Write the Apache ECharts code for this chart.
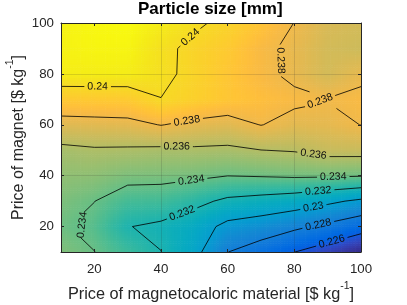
<!DOCTYPE html>
<html><head><meta charset="utf-8">
<script src="https://cdn.jsdelivr.net/npm/echarts@6/dist/echarts.min.js"></script>
<style>html,body{margin:0;padding:0;background:#fff}#c{width:407px;height:305px}</style>
</head><body><div id="c"></div><script>
// x: price of magnetocaloric material [$/kg], y: price of magnet [$/kg]
const mcmPrice = [10, 20, 30, 40, 50, 60, 70, 80, 90, 100];
const magnetPrice = [10, 20, 30, 40, 50, 60, 70, 80, 90, 100];
// particle size [mm], one row per magnet price, columns follow mcmPrice
const size_m10  = [0.2346, 0.23402, 0.2330, 0.23202, 0.23056, 0.22802, 0.2271, 0.22602, 0.2251, 0.2241];
const size_m20  = [0.23413, 0.2336, 0.23205, 0.2317, 0.23093, 0.2295, 0.22903, 0.22834, 0.2276, 0.22675];
const size_m30  = [0.2345, 0.23402, 0.23319, 0.23311, 0.23248, 0.23166, 0.23134, 0.23098, 0.23036, 0.22967];
const size_m40  = [0.2350, 0.23491, 0.23448, 0.23446, 0.2343, 0.23402, 0.23411, 0.23423, 0.23421, 0.2341];
const size_m50  = [0.23558, 0.23581, 0.23577, 0.23567, 0.23574, 0.23566, 0.23598, 0.23611, 0.2366, 0.23663];
const size_m60  = [0.2374, 0.23748, 0.23756, 0.23805, 0.2376, 0.23741, 0.23804, 0.2375, 0.2376, 0.23802];
const size_m70  = [0.23914, 0.23918, 0.23921, 0.23998, 0.2395, 0.2390, 0.2386, 0.2383, 0.23805, 0.2383];
const size_m80  = [0.24083, 0.24082, 0.2408, 0.24027, 0.2397, 0.2390, 0.2383, 0.2377, 0.2370, 0.2377];
const size_m90  = [0.2410, 0.2411, 0.2411, 0.2403, 0.2397, 0.2392, 0.2383, 0.2377, 0.2370, 0.2368];
const size_m100 = [0.2410, 0.2412, 0.2413, 0.2408, 0.2402, 0.2397, 0.2389, 0.23798, 0.2372, 0.2370];
const contourLevels = [0.226, 0.228, 0.23, 0.232, 0.234, 0.236, 0.238, 0.24];
const xTickValues = [20, 40, 60, 80, 100];
const yTickValues = [20, 40, 60, 80, 100];

// label anchor hints: [level, approx x, approx y, vertical-reading hint]
const labelAnchors = [
  [0.24, 21, 75, 0], [0.24, 49.6, 93.3, 0],
  [0.238, 74.7, 85.2, -1], [0.238, 88, 68.3, 0], [0.238, 47.7, 62, 0],
  [0.236, 44.7, 51.4, 0], [0.236, 85.7, 48.1, 0],
  [0.234, 13.7, 20.6, 1], [0.234, 49.2, 37, 0], [0.234, 91.7, 39, 0],
  [0.232, 46.7, 23.9, 0], [0.232, 87.2, 33.7, 0],
  [0.23, 85.7, 27.8, 0], [0.228, 87.2, 20.6, 0], [0.226, 91.2, 14.3, 0]
];

const Z = [size_m10, size_m20, size_m30, size_m40, size_m50, size_m60, size_m70, size_m80, size_m90, size_m100];
const zAll = Z.flat();
const zMin = Math.min(...zAll), zMax = Math.max(...zAll);

const PARULA = [[0.2081,0.1663,0.5292],[0.2116,0.1898,0.5777],[0.2123,0.2138,0.6270],[0.2081,0.2386,0.6771],[0.1959,0.2645,0.7279],[0.1707,0.2919,0.7792],[0.1253,0.3242,0.8303],[0.0591,0.3598,0.8683],[0.0117,0.3875,0.8820],[0.0060,0.4086,0.8828],[0.0165,0.4266,0.8786],[0.0329,0.4430,0.8720],[0.0498,0.4586,0.8641],[0.0629,0.4737,0.8554],[0.0723,0.4887,0.8467],[0.0779,0.5040,0.8384],[0.0793,0.5200,0.8312],[0.0749,0.5375,0.8263],[0.0641,0.5570,0.8240],[0.0488,0.5772,0.8228],[0.0343,0.5966,0.8199],[0.0265,0.6137,0.8135],[0.0239,0.6287,0.8038],[0.0231,0.6418,0.7913],[0.0228,0.6535,0.7768],[0.0267,0.6642,0.7607],[0.0384,0.6743,0.7436],[0.0590,0.6838,0.7254],[0.0843,0.6928,0.7062],[0.1133,0.7015,0.6859],[0.1453,0.7098,0.6646],[0.1801,0.7177,0.6424],[0.2178,0.7250,0.6193],[0.2586,0.7317,0.5954],[0.3022,0.7376,0.5712],[0.3482,0.7424,0.5473],[0.3953,0.7459,0.5244],[0.4420,0.7481,0.5033],[0.4871,0.7491,0.4840],[0.5300,0.7491,0.4661],[0.5709,0.7485,0.4494],[0.6099,0.7473,0.4337],[0.6473,0.7456,0.4188],[0.6834,0.7435,0.4044],[0.7184,0.7411,0.3905],[0.7525,0.7384,0.3768],[0.7858,0.7356,0.3633],[0.8185,0.7327,0.3498],[0.8507,0.7299,0.3360],[0.8824,0.7274,0.3217],[0.9139,0.7258,0.3063],[0.9450,0.7261,0.2886],[0.9739,0.7314,0.2666],[0.9938,0.7455,0.2403],[0.9990,0.7653,0.2164],[0.9955,0.7861,0.1967],[0.9880,0.8066,0.1794],[0.9789,0.8271,0.1633],[0.9697,0.8481,0.1475],[0.9626,0.8705,0.1309],[0.9589,0.8949,0.1132],[0.9598,0.9218,0.0948],[0.9661,0.9514,0.0755],[0.9763,0.9831,0.0538]];
function zColor(z) {
  let t = (z - zMin) / (zMax - zMin);
  t = Math.max(0, Math.min(1, t)) * (PARULA.length - 1);
  const k = Math.min(PARULA.length - 2, Math.floor(t)), f = t - k;
  const a = PARULA[k], b = PARULA[k + 1];
  return 'rgb(' + [0,1,2].map(q => Math.round(255 * (a[q] + f * (b[q] - a[q])))).join(',') + ')';
}

// cells of the grid
const cellData = [];
for (let j = 0; j < magnetPrice.length - 1; j++)
  for (let i = 0; i < mcmPrice.length - 1; i++)
    cellData.push([mcmPrice[i], magnetPrice[j], i, j]);

// marching squares contour segments in data space
function contourSegments(level) {
  const segs = [];
  const above = z => z >= level;
  function cross(za, zb, pa, pb) {
    if (above(za) === above(zb)) return null;
    const t = (level - za) / (zb - za);
    return [pa[0] + t * (pb[0] - pa[0]), pa[1] + t * (pb[1] - pa[1])];
  }
  for (let j = 0; j < magnetPrice.length - 1; j++) {
    for (let i = 0; i < mcmPrice.length - 1; i++) {
      const x0 = mcmPrice[i], x1 = mcmPrice[i + 1], y0 = magnetPrice[j], y1 = magnetPrice[j + 1];
      const a = Z[j][i], b = Z[j][i + 1], c = Z[j + 1][i + 1], d = Z[j + 1][i];
      const eB = cross(a, b, [x0, y0], [x1, y0]);
      const eR = cross(b, c, [x1, y0], [x1, y1]);
      const eT = cross(d, c, [x0, y1], [x1, y1]);
      const eL = cross(a, d, [x0, y0], [x0, y1]);
      const pts = [eB, eR, eT, eL].filter(p => p);
      if (pts.length === 2) segs.push([pts[0], pts[1]]);
      else if (pts.length === 4) {
        const centerAbove = above((a + b + c + d) / 4);
        if (centerAbove === above(a)) { segs.push([eB, eR]); segs.push([eT, eL]); }
        else { segs.push([eB, eL]); segs.push([eR, eT]); }
      }
    }
  }
  return segs;
}
const contours = contourLevels.map(l => ({ level: l, segs: contourSegments(l) }));

const measureCtx = document.createElement('canvas').getContext('2d');
const LABEL_FONT = '10.6px "Liberation Sans", Arial, sans-serif';
measureCtx.font = LABEL_FONT;
function levelText(l) { return String(+l.toFixed(3)); }

function computeLabels(api) {
  const out = [];
  labelAnchors.forEach(an => {
    const level = an[0];
    const cont = contours.find(c => Math.abs(c.level - level) < 1e-9);
    if (!cont) return;
    const segPx = cont.segs.map(s => [api.coord(s[0]), api.coord(s[1])]);
    const A = api.coord([an[1], an[2]]);
    let best = null, bd = Infinity;
    segPx.forEach(s => {
      const dx = s[1][0] - s[0][0], dy = s[1][1] - s[0][1];
      const L2 = dx * dx + dy * dy || 1e-9;
      let t = ((A[0] - s[0][0]) * dx + (A[1] - s[0][1]) * dy) / L2;
      t = Math.max(0, Math.min(1, t));
      const P = [s[0][0] + t * dx, s[0][1] + t * dy];
      const dd = (P[0] - A[0]) ** 2 + (P[1] - A[1]) ** 2;
      if (dd < bd) { bd = dd; best = { P, dir: [dx, dy] }; }
    });
    if (!best) return;
    const text = levelText(level);
    const w = measureCtx.measureText(text).width;
    const r = w / 2 + 3;
    const C = best.P;
    const hits = [];
    segPx.forEach(s => {
      const dx = s[1][0] - s[0][0], dy = s[1][1] - s[0][1];
      const fx = s[0][0] - C[0], fy = s[0][1] - C[1];
      const a = dx * dx + dy * dy, b = 2 * (fx * dx + fy * dy), c = fx * fx + fy * fy - r * r;
      const disc = b * b - 4 * a * c;
      if (disc < 0 || a === 0) return;
      const sq = Math.sqrt(disc);
      [(-b - sq) / (2 * a), (-b + sq) / (2 * a)].forEach(t => {
        if (t >= 0 && t <= 1) hits.push([s[0][0] + t * dx, s[0][1] + t * dy]);
      });
    });
    let p1 = null, p2 = null, md = -1;
    for (let m = 0; m < hits.length; m++) for (let n = m + 1; n < hits.length; n++) {
      const dd = (hits[m][0] - hits[n][0]) ** 2 + (hits[m][1] - hits[n][1]) ** 2;
      if (dd > md) { md = dd; p1 = hits[m]; p2 = hits[n]; }
    }
    let dir = best.dir, M = C;
    if (p1 && md > 4) { dir = [p2[0] - p1[0], p2[1] - p1[1]]; M = [(p1[0] + p2[0]) / 2, (p1[1] + p2[1]) / 2]; }
    let ang = Math.atan2(-dir[1], dir[0]);
    if (ang > Math.PI / 2) ang -= Math.PI;
    if (ang <= -Math.PI / 2) ang += Math.PI;
    if (an[3] && Math.abs(ang) > Math.PI * 0.4) ang = an[3] * Math.abs(ang);
    out.push({ level, C, r, M, ang, text });
  });
  return out;
}

function clipSegment(p0, p1, circles) {
  const dx = p1[0] - p0[0], dy = p1[1] - p0[1];
  const a = dx * dx + dy * dy;
  const removed = [];
  circles.forEach(ci => {
    const fx = p0[0] - ci.C[0], fy = p0[1] - ci.C[1];
    const b = 2 * (fx * dx + fy * dy), c = fx * fx + fy * fy - ci.r * ci.r;
    const disc = b * b - 4 * a * c;
    if (disc <= 0 || a === 0) return;
    const sq = Math.sqrt(disc);
    const t1 = Math.max(0, (-b - sq) / (2 * a)), t2 = Math.min(1, (-b + sq) / (2 * a));
    if (t2 > t1) removed.push([t1, t2]);
  });
  removed.sort((u, v) => u[0] - v[0]);
  const keep = [];
  let cur = 0;
  removed.forEach(rm => { if (rm[0] > cur) keep.push([cur, rm[0]]); cur = Math.max(cur, rm[1]); });
  if (cur < 1) keep.push([cur, 1]);
  return keep.map(k => [[p0[0] + k[0] * dx, p0[1] + k[0] * dy], [p0[0] + k[1] * dx, p0[1] + k[1] * dy]]);
}

const SUB = 12;
function renderCell(params, api) {
  const i = api.value(2), j = api.value(3);
  const p0 = api.coord([mcmPrice[i], magnetPrice[j]]);
  const p1 = api.coord([mcmPrice[i + 1], magnetPrice[j + 1]]);
  const a = Z[j][i], b = Z[j][i + 1], c = Z[j + 1][i + 1], d = Z[j + 1][i];
  const children = [];
  const w = (p1[0] - p0[0]) / SUB, h = (p1[1] - p0[1]) / SUB; // h negative
  for (let u = 0; u < SUB; u++) for (let v = 0; v < SUB; v++) {
    const fu = (u + 0.5) / SUB, fv = (v + 0.5) / SUB;
    const z = a * (1 - fu) * (1 - fv) + b * fu * (1 - fv) + c * fu * fv + d * (1 - fu) * fv;
    const x = p0[0] + u * w, yb = p0[1] + v * h;
    children.push({ type: 'rect', shape: { x: x - 0.3, y: yb + h - 0.3, width: w + 0.6, height: -h + 0.6 },
      style: { fill: zColor(z) }, silent: true });
  }
  return { type: 'group', children };
}

function renderContours(params, api) {
  const labels = computeLabels(api);
  const children = [];
  contours.forEach(cont => {
    const circles = labels.filter(l => Math.abs(l.level - cont.level) < 1e-9);
    cont.segs.forEach(s => {
      const q0 = api.coord(s[0]), q1 = api.coord(s[1]);
      clipSegment(q0, q1, circles).forEach(piece => {
        children.push({ type: 'line', shape: { x1: piece[0][0], y1: piece[0][1], x2: piece[1][0], y2: piece[1][1] },
          style: { stroke: '#000', lineWidth: 0.8 }, silent: true });
      });
    });
  });
  labels.forEach(l => {
    children.push({ type: 'text', x: l.M[0], y: l.M[1], rotation: l.ang, silent: true,
      style: { text: l.text, font: LABEL_FONT, fill: '#111', align: 'center', verticalAlign: 'middle' } });
  });
  return { type: 'group', children };
}

const FONT = '"Liberation Sans", Arial, sans-serif';
const AX = '#262626';
const gridColors = ['rgba(0,0,0,0)', 'rgba(38,38,38,0.15)'];
const nameRich = {
  sup: { fontSize: 10.5, fontFamily: FONT, color: AX, verticalAlign: 'top', padding: [0, 0, 17, 0] }
};
const chart = echarts.init(document.getElementById('c'), null, { renderer: 'canvas' });
chart.setOption({
  animation: false,
  title: { text: 'Particle size [mm]', left: 138, top: 1, padding: 0,
    textStyle: { fontFamily: FONT, fontSize: 17, fontWeight: 'bold', color: '#000' } },
  grid: { left: 61, top: 23, width: 300, height: 229, outerBoundsMode: 'none', containLabel: false },
  xAxis: [{
    type: 'value', min: 10, max: 100, interval: 10, position: 'bottom', z: 10,
    axisLine: { show: true, lineStyle: { color: AX, width: 1 } },
    axisTick: { show: true, inside: true, length: 3, customValues: xTickValues, lineStyle: { color: AX } },
    axisLabel: { customValues: xTickValues, color: AX, fontSize: 13.3, fontFamily: FONT, margin: 11 },
    splitLine: { show: true, lineStyle: { color: gridColors, width: 1 } },
    name: 'Price of magnetocaloric material [$ kg{sup|-1}]', nameLocation: 'middle', nameGap: 26,
    nameTextStyle: { color: AX, fontSize: 16.3, fontFamily: FONT, rich: nameRich }
  }, {
    type: 'value', min: 10, max: 100, interval: 10, position: 'top', z: 10,
    axisLine: { show: true, onZero: false, lineStyle: { color: AX, width: 1 } },
    axisTick: { show: true, inside: true, length: 3, customValues: xTickValues, lineStyle: { color: AX } },
    axisLabel: { show: false }, splitLine: { show: false }
  }],
  yAxis: [{
    type: 'value', min: 10, max: 100, interval: 10, position: 'left', z: 10,
    axisLine: { show: true, lineStyle: { color: AX, width: 1 } },
    axisTick: { show: true, inside: true, length: 3, customValues: yTickValues, lineStyle: { color: AX } },
    axisLabel: { customValues: yTickValues, color: AX, fontSize: 13.3, fontFamily: FONT, margin: 7 },
    splitLine: { show: true, lineStyle: { color: gridColors, width: 1 } },
    name: 'Price of magnet [$ kg{sup|-1}]', nameLocation: 'middle', nameGap: 28.5, nameMoveOverlap: false,
    nameTextStyle: { color: AX, fontSize: 16, fontFamily: FONT, rich: nameRich }
  }, {
    type: 'value', min: 10, max: 100, interval: 10, position: 'right', z: 10,
    axisLine: { show: true, onZero: false, lineStyle: { color: AX, width: 1 } },
    axisTick: { show: true, inside: true, length: 3, customValues: yTickValues, lineStyle: { color: AX } },
    axisLabel: { show: false }, splitLine: { show: false }
  }],
  series: [{
    type: 'custom', name: 'surface', xAxisIndex: 0, yAxisIndex: 0, z: 1, clip: true,
    renderItem: renderCell, data: cellData, encode: { x: 0, y: 1 }, silent: true
  }, {
    type: 'custom', name: 'contours', xAxisIndex: 0, yAxisIndex: 0, z: 3, clip: true,
    renderItem: renderContours, data: [[mcmPrice[0], magnetPrice[0]]], encode: { x: 0, y: 1 }, silent: true
  }]
});
</script></body></html>
